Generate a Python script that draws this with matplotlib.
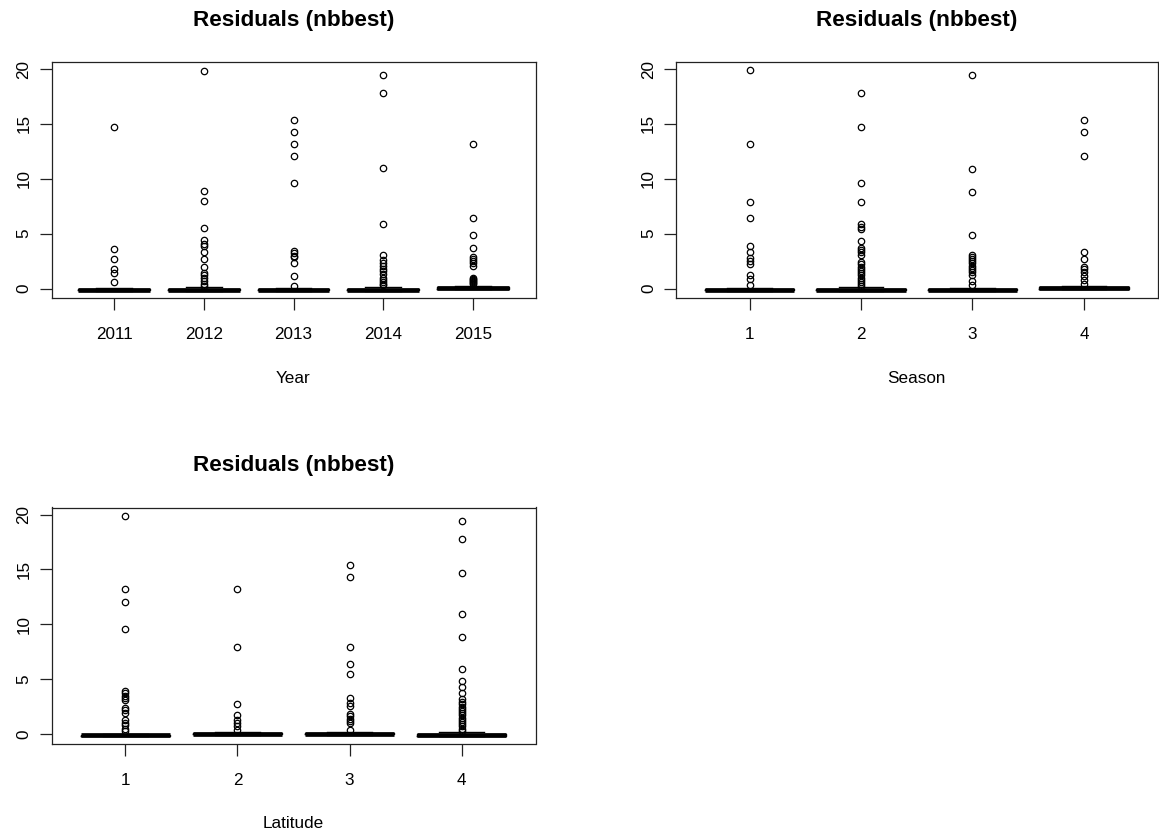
import matplotlib
matplotlib.use("Agg")
import matplotlib.pyplot as plt

plt.rcParams['font.family'] = ['Liberation Sans', 'DejaVu Sans']

TITLE = "Residuals (nbbest)"

# ---- Panel 1: Year ----
year_labels = ["2011", "2012", "2013", "2014", "2015"]
year_med = [-0.10, -0.10, -0.10, -0.10, 0.05]
year_q1 = [-0.15, -0.15, -0.15, -0.15, 0.00]
year_q3 = [-0.05, -0.05, -0.05, 0.00, 0.10]
year_lo = [-0.20, -0.20, -0.20, -0.20, -0.05]
year_hi = [0.05, 0.10, 0.05, 0.15, 0.25]
year_fliers = [
    [14.7, 3.6, 2.7, 1.8, 1.4, 0.6],
    [19.85, 8.85, 7.95, 5.5, 4.4, 4.1, 3.85, 3.3, 2.7, 2.0, 1.4, 1.2, 1.0, 0.7, 0.4, 0.2],
    [15.4, 14.3, 13.2, 12.1, 9.6, 3.4, 3.2, 3.0, 2.9, 2.3, 1.1, 0.25],
    [19.45, 17.8, 10.95, 5.9, 3.1, 2.6, 2.3, 2.1, 1.8, 1.6, 1.3, 1.0, 0.8, 0.6, 0.4, 0.3],
    [13.2, 6.4, 4.85, 3.7, 2.9, 2.7, 2.5, 2.3, 2.1, 1.0, 0.9, 0.8, 0.7, 0.6, 0.5, 0.4],
]

# ---- Panel 2: Season ----
season_labels = ["1", "2", "3", "4"]
season_med = [-0.10, -0.10, -0.10, 0.05]
season_q1 = [-0.15, -0.15, -0.15, 0.00]
season_q3 = [-0.05, -0.05, -0.05, 0.10]
season_lo = [-0.20, -0.20, -0.20, -0.05]
season_hi = [0.05, 0.15, 0.05, 0.20]
season_fliers = [
    [19.9, 13.2, 7.9, 6.4, 3.9, 3.3, 2.8, 2.5, 2.2, 1.2, 0.9, 0.3],
    [17.8, 14.7, 9.6, 7.9, 5.9, 5.6, 5.4, 4.35, 3.7, 3.5, 3.3, 3.1, 2.4, 2.2, 2.0,
     1.8, 1.6, 1.4, 1.2, 1.0, 0.8, 0.6, 0.4, 0.2],
    [19.5, 10.9, 8.8, 4.85, 3.05, 2.9, 2.7, 2.5, 2.3, 2.1, 1.9, 1.7, 1.5, 1.2, 0.7, 0.3],
    [15.4, 14.3, 12.1, 3.3, 2.7, 2.0, 1.8, 1.5, 1.1, 0.8, 0.4],
]

# ---- Panel 3: Latitude ----
lat_labels = ["1", "2", "3", "4"]
lat_med = [-0.10, 0.05, 0.05, -0.10]
lat_q1 = [-0.15, 0.00, 0.00, -0.15]
lat_q3 = [-0.05, 0.10, 0.10, 0.00]
lat_lo = [-0.20, -0.05, -0.05, -0.20]
lat_hi = [0.05, 0.20, 0.20, 0.15]
lat_fliers = [
    [19.85, 13.25, 12.0, 9.6, 3.95, 3.7, 3.5, 3.3, 3.1, 2.4, 2.2, 1.9, 1.3, 1.0, 0.8, 0.5, 0.3],
    [13.25, 7.9, 2.7, 1.7, 1.3, 1.0, 0.7, 0.4],
    [15.4, 14.3, 7.9, 6.4, 5.5, 3.3, 2.8, 2.6, 1.8, 1.6, 1.4, 1.2, 1.0, 0.4],
    [19.45, 17.8, 14.7, 10.9, 8.8, 5.9, 4.85, 4.3, 3.7, 3.2, 2.9, 2.7, 2.5, 2.3, 2.1,
     1.9, 1.7, 1.5, 1.3, 1.1, 0.9, 0.7, 0.5, 0.3],
]

yticks = [0, 5, 10, 15, 20]

W, H = 1159, 840
fig = plt.figure(figsize=(W / 100, H / 100), dpi=100)


def px_axes(x0, y0, x1, y1):
    return fig.add_axes([x0 / W, 1 - y1 / H, (x1 - x0) / W, (y1 - y0) / H])


def panel(ax, labels, med, q1, q3, lo, hi, fliers, xlabel):
    n = len(labels)
    stats = []
    for i in range(n):
        stats.append(dict(med=med[i], q1=q1[i], q3=q3[i], whislo=lo[i],
                          whishi=hi[i], fliers=fliers[i], label=labels[i]))
    pos = list(range(1, n + 1))
    ax.bxp(stats, positions=pos, widths=0.8, capwidths=0.4,
           boxprops=dict(color='black', linewidth=1.0),
           medianprops=dict(color='black', linewidth=3.4, solid_capstyle='butt'),
           whiskerprops=dict(color='black', linewidth=1.0, linestyle='--'),
           capprops=dict(color='black', linewidth=1.0),
           flierprops=dict(marker='o', markerfacecolor='none', markeredgecolor='black',
                           markersize=4.6, markeredgewidth=0.9, linestyle='none'))
    r = 0.04 * n
    ax.set_xlim(0.5 - r, n + 0.5 + r)
    ax.set_ylim(-0.86, 20.64)
    ax.set_xticks(pos)
    ax.set_xticklabels(labels)
    ax.set_yticks(yticks)
    ax.set_yticklabels([str(v) for v in yticks], rotation=90, va='center')
    for s in ax.spines.values():
        s.set_linewidth(0.9)
        s.set_color('#222222')
    ax.tick_params(axis='both', direction='out', length=8.4, width=0.9, color='#222222',
                   labelsize=12.3)
    ax.tick_params(axis='x', pad=12.5)
    ax.tick_params(axis='y', pad=6)
    ax.set_title(TITLE, fontsize=16.2, fontweight='bold', pad=26)
    ax.set_xlabel(xlabel, fontsize=12.3, labelpad=20.5)


ax1 = px_axes(51.5, 62, 535.5, 298)
panel(ax1, year_labels, year_med, year_q1, year_q3, year_lo, year_hi, year_fliers, "Year")

ax2 = px_axes(676, 62, 1157.5, 298)
panel(ax2, season_labels, season_med, season_q1, season_q3, season_lo, season_hi,
      season_fliers, "Season")

ax3 = px_axes(51.5, 507.5, 535.5, 743.5)
panel(ax3, lat_labels, lat_med, lat_q1, lat_q3, lat_lo, lat_hi, lat_fliers, "Latitude")

fig.savefig("out.png", dpi=100)
